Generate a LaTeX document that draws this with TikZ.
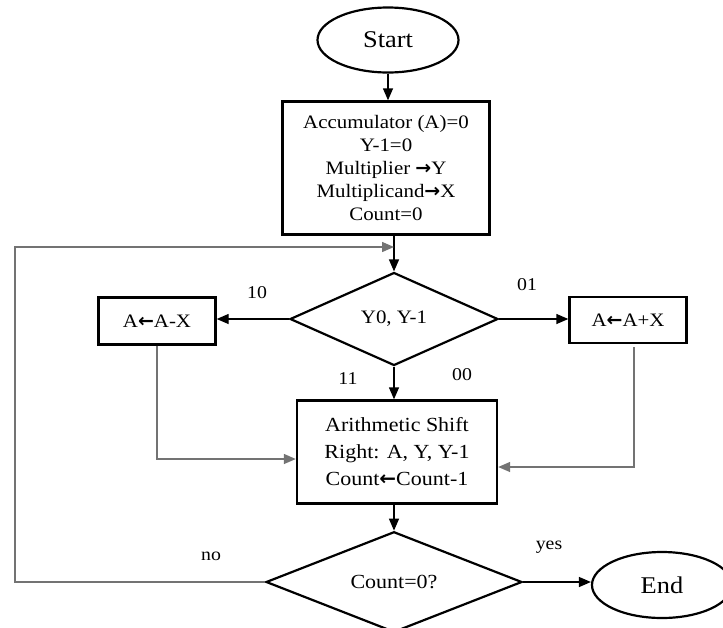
\documentclass[tikz,border=0pt]{standalone}
\usepackage{fontspec}
\setmainfont[FakeStretch=1.1]{Liberation Serif}
\newfontfamily\arrfont{DejaVu Sans}
\newcommand{\toarr}{{\arrfont\bfseries →}}
\newcommand{\fromarr}{{\arrfont\bfseries ←}}
\usetikzlibrary{positioning,arrows.meta,shapes.geometric}

\begin{document}
\begin{tikzpicture}[x=1pt, y=-1pt,
  box/.style={draw, line width=2.4pt, align=center, inner sep=2pt, font=\fontsize{19}{23}\selectfont},
  term/.style={draw, ellipse, line width=2.2pt, font=\fontsize{24}{28}\selectfont},
  test/.style={draw, diamond, line width=2.2pt, inner sep=0pt, font=\fontsize{19}{23}\selectfont},
  lbl/.style={font=\fontsize{18}{20}\selectfont},
  flow/.style={line width=1.4pt, -{Triangle[length=12pt,width=10pt]}},
  side/.style={flow, draw=black!55}]
\clip (0,0) rectangle (723,627);
\node[term, minimum width=141pt, minimum height=65pt] (start) at (388,40) {Start};
\node[box, minimum width=207pt, minimum height=133pt] (init) at (386,168) {Accumulator (A)=0\\Y-1=0\\Multiplier \toarr Y\\Multiplicand\toarr X\\Count=0};
\node[test, minimum width=208pt, minimum height=93pt] (booth) at (394,319) {Y0, Y-1};
\node[box, minimum width=117pt, minimum height=47pt] (sub) at (157,321) {A\fromarr A-X};
\node[box, minimum width=117pt, minimum height=46pt] (add) at (628,320) {A\fromarr A+X};
\node[box, minimum width=200pt, minimum height=103pt, font=\fontsize{20}{27}\selectfont] (shift) at (397,452) {Arithmetic Shift\\Right: A, Y, Y-1\\Count\fromarr Count-1};
\node[test, minimum width=256pt, minimum height=96pt, font=\fontsize{20}{24}\selectfont] (done) at (394,582) {Count=0?};
\node[term, minimum width=140pt, minimum height=66pt] (end) at (662,585) {End};
% branch labels
\node[lbl] (l10) at (257,293) {10};
\node[lbl] (l01) at (527,285) {01};
\node[lbl] (l11) at (348,379) {11};
\node[lbl] (l00) at (462,375) {00};
\node[lbl] (lno) at (211,556) {no};
\node[lbl] (lyes) at (549,547) {yes};
\coordinate (loop) at (15,247);
\coordinate (merge) at (394,247);
\draw[flow] (start.south) -- (start.south |- init.north);
\draw[flow] (init.south -| booth.north) -- (booth.north);
\draw[flow] (booth.west) -- (booth.west -| sub.east);
\draw[flow] (booth.east) -- (booth.east -| add.west);
\draw[flow] (booth.south) -- (booth.south |- shift.north);
\draw[side] (sub.south) |- ([yshift=-7pt]shift.west);
\draw[side] ([xshift=6pt,yshift=-3pt]add.south) |- ([yshift=-15pt]shift.east);
\draw[flow] (shift.south -| done.north) -- (done.north);
\draw[side] (done.west) -| (loop) -- (merge);
\draw[flow] (done.east) -- (done.east -| end.west);
\end{tikzpicture}
\end{document}
